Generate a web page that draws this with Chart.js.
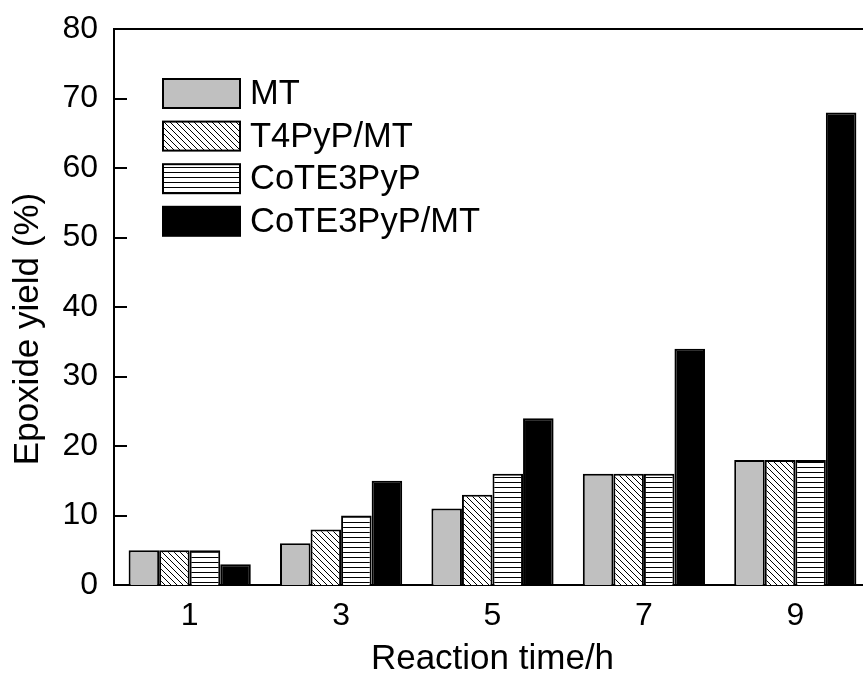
<!DOCTYPE html>
<html>
<head>
<meta charset="utf-8">
<script src="https://cdn.jsdelivr.net/npm/chart.js@4/dist/chart.umd.min.js"></script>
<style>
  html, body { margin: 0; padding: 0; background: #fff; overflow: hidden; }
  #wrap { width: 871px; height: 683px; }
</style>
</head>
<body>
<div id="wrap"><canvas id="c" width="871" height="683"></canvas></div>
<script>
const categories = ['1', '3', '5', '7', '9'];
const seriesLabels = ['MT', 'T4PyP/MT', 'CoTE3PyP', 'CoTE3PyP/MT'];
const mtValues = [5, 6, 11, 16, 18];
const t4pypMtValues = [5, 8, 13, 16, 18];
const cote3pypValues = [5, 10, 16, 16, 18];
const cote3pypMtValues = [3, 15, 24, 34, 68];
const yMin = 0, yMax = 80, yStep = 10;
const xTitle = 'Reaction time/h';
const yTitle = 'Epoxide yield (%)';

const FONT = "'Liberation Sans', Arial, sans-serif";

function makePattern(kind) {
  const s = kind === 'diag' ? 6 : 5;
  const p = document.createElement('canvas');
  p.width = s; p.height = s;
  const g = p.getContext('2d');
  g.fillStyle = '#fff';
  g.fillRect(0, 0, s, s);
  g.fillStyle = '#000';
  if (kind === 'diag') {
    for (let i = 0; i < s; i++) g.fillRect(i, i, 1, 1);
  } else {
    g.fillRect(0, 2, s, 1);
  }
  return document.getElementById('c').getContext('2d').createPattern(p, 'repeat');
}

const fills = ['#c0c0c0', makePattern('diag'), makePattern('horiz'), '#000000'];
const seriesValues = [mtValues, t4pypMtValues, cote3pypValues, cote3pypMtValues];

const frameAndLegend = {
  id: 'frameAndLegend',
  afterDraw(chart) {
    const ctx = chart.ctx;
    const a = chart.chartArea;
    const ys = chart.scales.y;
    ctx.save();
    ctx.strokeStyle = '#000';
    ctx.lineWidth = 2;
    // top and right frame
    ctx.beginPath();
    ctx.moveTo(a.left - 1, a.top);
    ctx.lineTo(a.right, a.top);
    ctx.lineTo(a.right, a.bottom);
    ctx.stroke();
    // inward y ticks
    for (let v = yMin + yStep; v < yMax; v += yStep) {
      const py = Math.round(ys.getPixelForValue(v));
      ctx.beginPath();
      ctx.moveTo(a.left, py);
      ctx.lineTo(a.left + 13, py);
      ctx.stroke();
    }
    // y title (drawn slightly below the axis centre as in the source)
    ctx.save();
    ctx.translate(28, 329);
    ctx.rotate(-Math.PI / 2);
    ctx.font = '35px ' + FONT;
    ctx.fillStyle = '#000';
    ctx.textAlign = 'center';
    ctx.textBaseline = 'middle';
    ctx.fillText(yTitle, 0, 0);
    ctx.restore();
    // legend inside plot
    const lx = 163, ly0 = 79, dy = 42.6, bw = 77, bh = 29;
    ctx.font = '34.5px ' + FONT;
    ctx.textBaseline = 'middle';
    ctx.textAlign = 'left';
    chart.data.datasets.forEach((ds, i) => {
      const by = ly0 + i * dy;
      ctx.fillStyle = ds.backgroundColor;
      ctx.fillRect(lx, by, bw, bh);
      ctx.lineWidth = 2;
      ctx.strokeStyle = '#000';
      ctx.strokeRect(lx, by, bw, bh);
      ctx.fillStyle = '#000';
      ctx.fillText(ds.label, lx + bw + 10, by + bh / 2 + 1);
    });
    ctx.restore();
  }
};

new Chart(document.getElementById('c'), {
  type: 'bar',
  data: {
    labels: categories,
    datasets: seriesLabels.map((lab, i) => ({
      label: lab,
      data: seriesValues[i],
      backgroundColor: fills[i],
      borderColor: '#000',
      borderWidth: 2,
      barPercentage: 1.0,
      categoryPercentage: 0.807
    }))
  },
  options: {
    responsive: false,
    animation: false,
    devicePixelRatio: 1,
    layout: { padding: { top: 29, right: 0, bottom: 0, left: 0 } },
    plugins: { legend: { display: false }, tooltip: { enabled: false } },
    scales: {
      x: {
        offset: true,
        grid: { display: false },
        border: { display: true, color: '#000', width: 2 },
        ticks: { color: '#000', font: { family: FONT, size: 32 }, padding: 4 },
        title: { display: true, text: xTitle, color: '#000', font: { family: FONT, size: 35 }, padding: { top: 0, bottom: 3 } },
        afterFit(s) { s.height = 98; }
      },
      y: {
        min: yMin, max: yMax,
        grid: { display: false },
        border: { display: true, color: '#000', width: 2 },
        ticks: { stepSize: yStep, color: '#000', font: { family: FONT, size: 32 }, padding: 8 },
        title: { display: false, text: yTitle },
        afterFit(s) { s.width = 114; }
      }
    }
  },
  plugins: [frameAndLegend]
});
</script>
</body>
</html>
